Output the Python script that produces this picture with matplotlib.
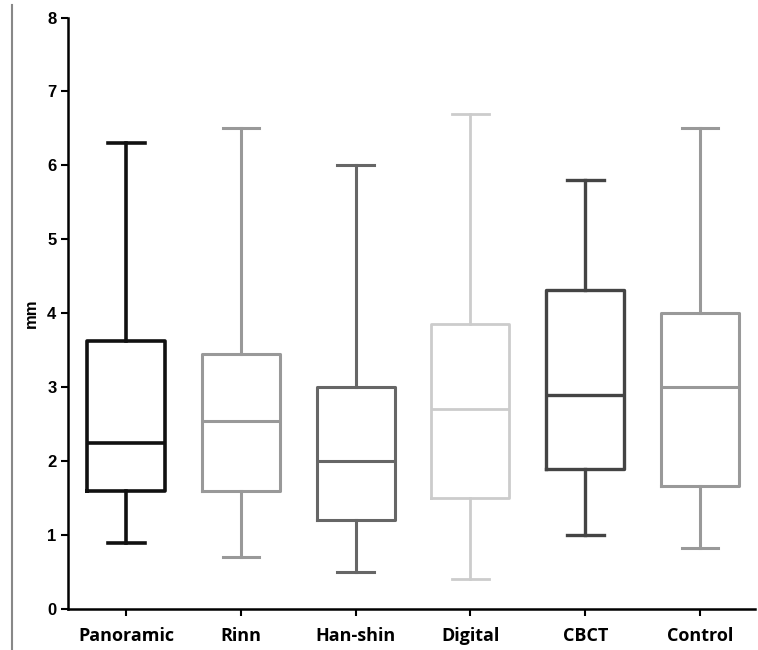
import matplotlib
matplotlib.use('Agg')
import matplotlib.pyplot as plt
from matplotlib.lines import Line2D

# five-number summaries
groups = ['Panoramic', 'Rinn', 'Han-shin', 'Digital', 'CBCT', 'Control']
mins = [0.9, 0.7, 0.5, 0.4, 1.0, 0.83]
q1s = [1.6, 1.6, 1.2, 1.5, 1.9, 1.67]
medians = [2.25, 2.55, 2.0, 2.7, 2.9, 3.0]
q3s = [3.62, 3.45, 3.0, 3.85, 4.32, 4.0]
maxs = [6.3, 6.5, 6.0, 6.7, 5.8, 6.5]
colors = ['#111111', '#999999', '#666666', '#cccccc', '#444444', '#999999']
widths = [2.6, 2.2, 2.2, 2.0, 2.4, 2.2]

plt.rcParams['font.family'] = ['Liberation Sans', 'DejaVu Sans']

fig = plt.figure(figsize=(7.58, 6.5), dpi=100)
ax = fig.add_axes([0.09, 0.063, 0.906, 0.91])

stats = []
for i, g in enumerate(groups):
    stats.append({'label': g, 'whislo': mins[i], 'q1': q1s[i], 'med': medians[i],
                  'q3': q3s[i], 'whishi': maxs[i]})

for i, s in enumerate(stats):
    c = colors[i]
    lw = widths[i]
    ax.bxp([s], positions=[i + 1], widths=0.68, showfliers=False,
           boxprops=dict(color=c, linewidth=lw),
           whiskerprops=dict(color=c, linewidth=lw),
           capprops=dict(color=c, linewidth=lw),
           medianprops=dict(color=c, linewidth=lw),
           capwidths=0.32)

ax.set_xlim(0.493, 6.48)
ax.set_ylim(0, 8)
ax.set_xticks(range(1, len(groups) + 1))
ax.set_xticklabels(groups, fontsize=13, fontweight='bold', family=['Open Sans', 'DejaVu Sans'])
ax.set_yticks(range(0, 9))
for lab in ax.get_yticklabels():
    lab.set_fontweight('bold')
    lab.set_fontsize(12)
ax.set_ylabel('mm', fontsize=12, fontweight='bold', labelpad=6)

for side in ['top', 'right']:
    ax.spines[side].set_visible(False)
for side in ['left', 'bottom']:
    ax.spines[side].set_linewidth(1.8)
ax.tick_params(axis='both', width=1.5, length=5, direction='out', colors='black')
ax.tick_params(axis='x', pad=8)

# gray frame line at the far left of the image
fig.add_artist(Line2D([12 / 758, 12 / 758], [0, 1 - 5 / 650], color='#888888', linewidth=1.5))

fig.savefig('out.png', dpi=100)
